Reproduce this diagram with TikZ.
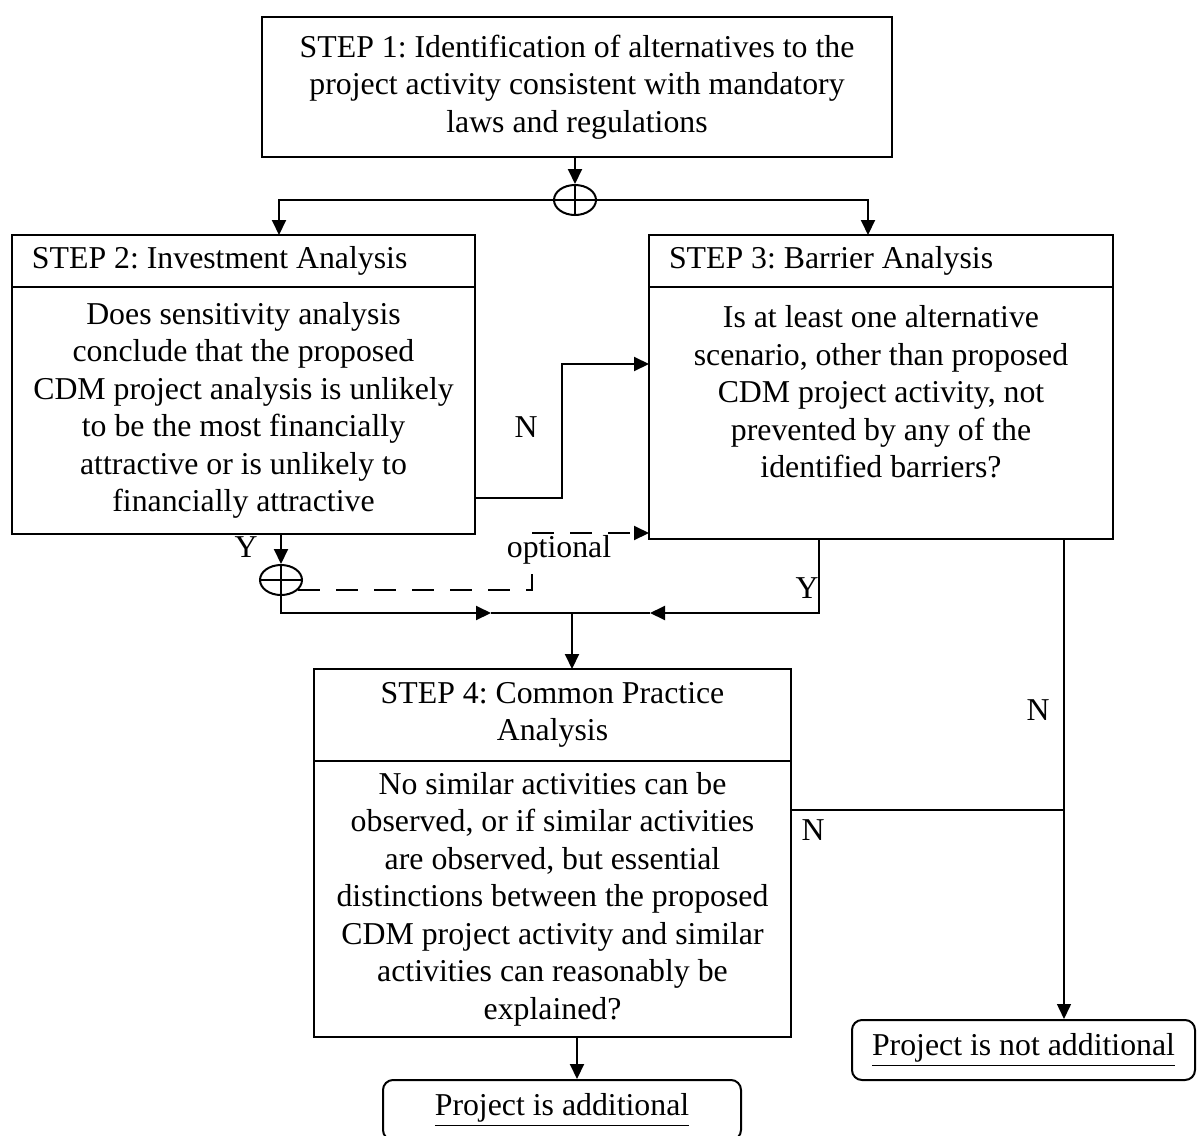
\documentclass[tikz,border=0pt]{standalone}
\usepackage{fontspec}
\setmainfont{Liberation Serif}
\usetikzlibrary{positioning}
\usetikzlibrary{arrows.meta}
\usetikzlibrary{shapes.geometric}
\frenchspacing

\tikzset{
    headbox/.style={draw,rectangle,outer sep=0pt,inner xsep=10pt,inner ysep=0pt,align=flush left,minimum height=26pt},
    bodybox/.style={draw,rectangle,outer sep=0pt,inner sep=0pt,align=center},
    endbox/.style={draw,rectangle,rounded corners=5pt,inner sep=0pt,minimum height=30pt},
    joint/.style={draw,ellipse,inner sep=0pt,minimum width=21pt,minimum height=15pt,
        path picture={\draw (path picture bounding box.north) -- (path picture bounding box.south)
            (path picture bounding box.west) -- (path picture bounding box.east);}},
    optline/.style={dash pattern=on 11pt off 8pt},
    lbl/.style={inner sep=0pt}
}

\begin{document}
\begin{tikzpicture}[x=0.5pt,y=-0.5pt,line width=1pt,
        font=\fontsize{15.9}{18.75}\selectfont,
        >={Triangle[length=7.5pt,width=7pt]}]
        \useasboundingbox (0,0) rectangle (1199,1135);

        \node[bodybox,minimum width=315pt,minimum height=70pt] (s1) at (577,87)
            {STEP 1: Identification of alternatives to the\\project activity consistent with mandatory\\laws and regulations};

        \node[headbox,anchor=north west,text width=211.5pt] (s2h) at (12,235) {STEP 2: Investment Analysis};
        \node[bodybox,below=0pt of s2h,minimum width=231.5pt,minimum height=123.5pt] (s2b)
            {Does sensitivity analysis\\conclude that the proposed\\CDM project analysis is unlikely\\to be the most financially\\attractive or is unlikely to\\financially attractive};

        \node[headbox,anchor=north west,text width=212pt] (s3h) at (649,235) {STEP 3: Barrier Analysis};
        \node[bodybox,below=0pt of s3h,minimum width=232pt,minimum height=126pt] (s3b) {};
        \node[lbl,align=center] (s3t) at (881,392)
            {Is at least one alternative\\scenario, other than proposed\\CDM project activity, not\\prevented by any of the\\identified barriers?};

        \node[bodybox,anchor=north,minimum width=238.5pt,minimum height=46pt] (s4h) at (552.5,669)
            {STEP 4: Common Practice\\Analysis};
        \node[bodybox,below=0pt of s4h,minimum width=238.5pt,minimum height=138pt] (s4b)
            {No similar activities can be\\observed, or if similar activities\\are observed, but essential\\distinctions between the proposed\\CDM project activity and similar\\activities can reasonably be\\explained?};

        \node[endbox,minimum width=171.5pt] (nadd) at (1023.5,1050) {\underline{Project is not additional}};
        \node[endbox,minimum width=179pt] (add) at (562,1110) {\underline{Project is additional}};

        \node[joint] (c1) at (575,200) {};
        \node[joint] (c2) at (281,580) {};

        \node[lbl] (yl) at (246,547) {Y};
        \node[lbl] (nl) at (526,427) {N};
        \node[lbl] (yr) at (807,588) {Y};
        \node[lbl] (nr) at (1038,710) {N};
        \node[lbl] (n4) at (813,830) {N};
        \node[lbl,fill=white] (opt) at (559,550) {optional};

        \coordinate (dl) at (532,574);
        \coordinate (du) at (532,533);
        \coordinate (ml) at (491,613);
        \coordinate (mr) at (650,613);
        \coordinate (jn) at (572,613);
        \coordinate (nx) at ([xshift=91.5pt]s3b.south);
        \coordinate (ne) at ([yshift=44.5pt]s4b.east);
        \coordinate (ax) at ([xshift=12.25pt]s4b.south);

        \draw[->] (c1 |- s1.south) -- (c1.north);
        \draw[->] (c1.west) -| ([xshift=17.75pt]s2h.north);
        \draw[->] (c1.east) -| ([xshift=-6.5pt]s3h.north);

        \draw[->] (c2 |- s2b.south) -- (c2.north);
        \draw[->] ([yshift=-43.75pt]s2b.east) -- ++(87,0) |- ([yshift=24.5pt]s3b.west);

        \draw[optline] (c2.-30) -| (dl);
        \draw[optline,->] (du) -- (du -| s3b.west);

        \draw[->] (c2.south) |- (ml);
        \draw (ml) -- (jn);
        \draw[->] ([xshift=-31pt]s3b.south) |- (mr);
        \draw (mr) -- (jn);
        \draw[->] (jn) -- (jn |- s4h.north);

        \draw[->] (ax) -- (ax |- add.north);

        \draw[line width=0.75pt,->] (nx) -- (nx |- nadd.north);
        \draw[line width=0.75pt] (ne) -- (ne -| nx);
    \end{tikzpicture}
\end{document}
